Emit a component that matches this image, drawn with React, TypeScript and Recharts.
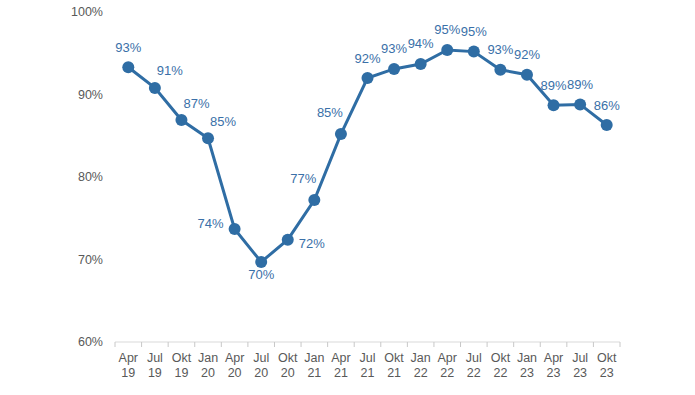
import React from "react";
import { LineChart, Line, XAxis, YAxis, LabelList } from "recharts";

const MONTHS = ["Apr", "Jul", "Okt", "Jan", "Apr", "Jul", "Okt", "Jan", "Apr", "Jul", "Okt", "Jan", "Apr", "Jul", "Okt", "Jan", "Apr", "Jul", "Okt"];
const YEARS = ["19", "19", "19", "20", "20", "20", "20", "21", "21", "21", "21", "22", "22", "22", "22", "23", "23", "23", "23"];
const VALUES = [93.3, 90.8, 86.9, 84.7, 73.7, 69.7, 72.4, 77.2, 85.2, 92.0, 93.1, 93.7, 95.4, 95.2, 93.0, 92.4, 88.7, 88.8, 86.3];
const Y_TICKS = [60, 70, 80, 90, 100];
const LABEL_POS = ["top", "topRight", "topRight", "topRight", "left", "bottom", "right", "topLeft", "topLeft", "top", "top", "top", "top", "top", "top", "top", "top", "top", "top"];

const data = VALUES.map((v, i) => ({ idx: i, value: v, month: MONTHS[i], year: YEARS[i] }));
const X_TICKS: number[] = [];
for (let i = 0; i <= VALUES.length * 2; i++) X_TICKS.push(i / 2 - 0.5);

const BLUE = "#2F6DA4";
const FONT = "'Liberation Sans', Arial, sans-serif";

const OFFSETS: Record<string, [number, number]> = {
  top: [0, -20],
  topRight: [15, -17],
  topLeft: [-11, -22],
  left: [-24, -5],
  right: [24, 4],
  bottom: [0, 13],
};

const DataLabel = (props: any) => {
  const { x, y, index, value } = props;
  const [dx, dy] = OFFSETS[LABEL_POS[index]] || [0, -20];
  return (
    <text x={x + dx} y={y + dy} textAnchor="middle" dominantBaseline="central" fill="#3A70A8" fontSize={13} fontFamily={FONT}>
      {Math.round(value)}%
    </text>
  );
};

const XTick = (props: any) => {
  const { x, y, payload } = props;
  const v = payload.value;
  if (!Number.isInteger(v)) {
    return <line x1={x} x2={x} y1={y} y2={y + 5} stroke="#C8C8C8" strokeWidth={1} />;
  }
  return (
    <text x={x} y={y} textAnchor="middle" fill="#595959" fontSize={12.5} fontFamily={FONT}>
      <tspan x={x} dy={20}>{MONTHS[v]}</tspan>
      <tspan x={x} dy={15}>{YEARS[v]}</tspan>
    </text>
  );
};

export default function App() {
  return (
    <div style={{ position: "absolute", left: 0, top: 0, background: "#fff" }}>
      <LineChart width={695} height={395} data={data} margin={{ top: 12, right: 75, left: 0, bottom: 0 }}>
        <XAxis
          dataKey="idx"
          type="number"
          domain={[-0.5, VALUES.length - 0.5]}
          ticks={X_TICKS}
          interval={0}
          tick={<XTick />}
          tickLine={false}
          tickSize={0}
          tickMargin={0}
          axisLine={{ stroke: "#D9D9D9" }}
          height={53}
        />
        <YAxis
          domain={[60, 100]}
          ticks={Y_TICKS}
          interval={0}
          axisLine={false}
          tickLine={false}
          tickMargin={6}
          width={115}
          tickFormatter={(v: number) => `${v}%`}
          tick={{ fill: "#595959", fontSize: 12.5, fontFamily: FONT }}
        />
        <Line
          dataKey="value"
          stroke={BLUE}
          strokeWidth={3}
          dot={{ r: 6, fill: BLUE, stroke: BLUE, strokeWidth: 0 }}
          isAnimationActive={false}
        >
          <LabelList dataKey="value" content={<DataLabel />} />
        </Line>
      </LineChart>
    </div>
  );
}
